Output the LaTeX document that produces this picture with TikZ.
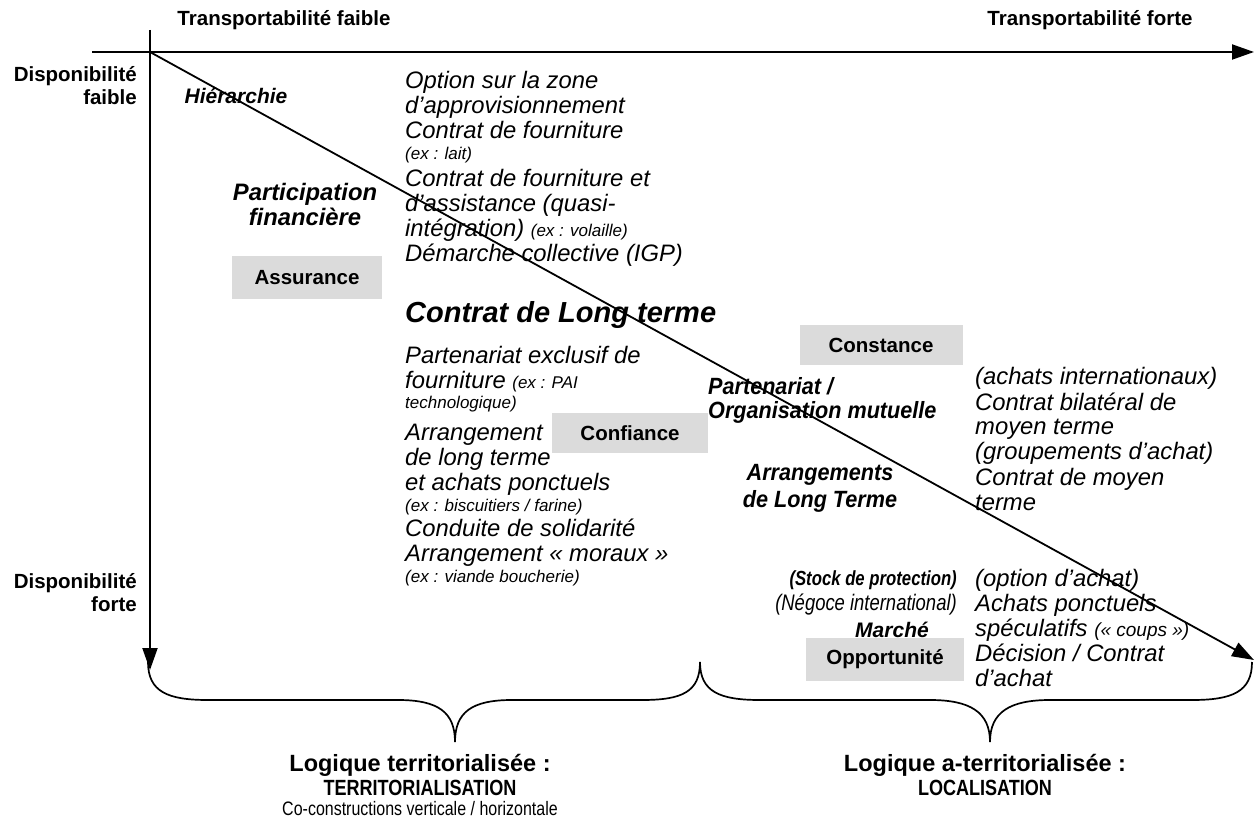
\documentclass[tikz,border=0pt]{standalone}
\usepackage{fontspec}
\setmainfont{Liberation Sans}
\newfontfamily\narrowfont[FakeStretch=0.82]{Liberation Sans}
\newfontfamily\semifont[FakeStretch=0.92]{Liberation Sans}
\usetikzlibrary{arrows.meta}
\newcommand\sm[1]{{\fontsize{17}{17}\selectfont #1}}
\newcommand\tline[4]{\node[txt] (#1) at (#2,#3) {#4};}
\tikzset{
  axis/.style={line width=2pt, -{Triangle[length=22pt,width=15pt]}},
  txt/.style={anchor=base west, inner sep=0pt, font=\fontsize{23.8}{24}\selectfont\itshape},
  lab/.style={inner sep=0pt, font=\fontsize{20.5}{21}\selectfont\bfseries},
  bi/.style={inner sep=0pt, font=\fontsize{23.8}{25}\selectfont\bfseries\itshape},
  sbi/.style={inner sep=0pt, font=\semifont\fontsize{23.5}{24}\selectfont\bfseries\itshape},
  graybox/.style={fill=gray!28, inner sep=0pt, font=\fontsize{20.5}{21}\selectfont\bfseries},
  brace/.style={line width=1.7pt},
  bottom/.style={inner sep=0pt, font=\fontsize{23.5}{24}\selectfont\bfseries},
  bottomcaps/.style={inner sep=0pt, font=\narrowfont\fontsize{22}{22}\selectfont\bfseries},
}
\begin{document}
\begin{tikzpicture}[x=1pt,y=-1pt]
\useasboundingbox (0,0) rectangle (1254,818);
% axes
\coordinate (o) at (150,52);
\coordinate (hl) at (92,52);
\coordinate (hr) at (1254,52);
\coordinate (vt) at (150,30);
\coordinate (vb) at (150,670);
\coordinate (dg) at (1254,660);
\draw[axis] (hl) -- (hr);
\draw[axis] (vt) -- (vb);
\draw[axis, line width=1.8pt] (o) -- (dg);
% top labels
\node[lab, anchor=base] (tf) at (284,26) {Transportabilité faible};
\node[lab, anchor=base] (tF) at (1090,26) {Transportabilité forte};
\node[lab, anchor=base east] (df) at (137,82) {Disponibilité};
\node[lab, anchor=base east] (df2) at (137,105) {faible};
\node[lab, anchor=base east] (dF) at (137,588) {Disponibilité};
\node[lab, anchor=base east] (dF2) at (137,611) {forte};
% left column labels
\node[bi, font=\fontsize{21}{21}\selectfont\bfseries\itshape, anchor=base] (hier) at (236,104) {Hiérarchie};
\node[bi, anchor=base] (part) at (305,201) {Participation};
\node[bi, anchor=base] (fin) at (305,226) {financière};
\node[graybox, minimum width=150pt, minimum height=43pt] (assur) at (307,278) {Assurance};
% column A
\tline{a1}{405}{89}{Option sur la zone}
\tline{a2}{405}{114}{d’approvisionnement}
\tline{a3}{405}{139}{Contrat de fourniture}
\tline{a4}{405}{160}{\sm{(ex : lait)}}
\tline{a5}{405}{187}{Contrat de fourniture et}
\tline{a6}{405}{212}{d’assistance (quasi-}
\tline{a7}{405}{237}{intégration) \sm{(ex : volaille)}}
\tline{a8}{405}{262}{Démarche collective (IGP)}
\node[bi, font=\fontsize{29}{29}\selectfont\bfseries\itshape, anchor=base west] (clt) at (405,323) {Contrat de Long terme};
\tline{b1}{405}{364}{Partenariat exclusif de}
\tline{b2}{405}{389}{fourniture \sm{(ex : PAI}}
\tline{b3}{405}{409}{\sm{technologique)}}
\tline{b4}{405}{440}{Arrangement}
\tline{b5}{405}{465}{de long terme}
\tline{b6}{405}{490}{et achats ponctuels}
\tline{b7}{405}{511}{\sm{(ex : biscuitiers / farine)}}
\tline{b8}{405}{536}{Conduite de solidarité}
\tline{b9}{405}{561}{Arrangement « moraux »}
\tline{b10}{405}{582}{\sm{(ex : viande boucherie)}}
\node[graybox, minimum width=156pt, minimum height=40pt] (conf) at (630,433) {Confiance};
% middle
\node[graybox, minimum width=163pt, minimum height=40pt] (const) at (881,345) {Constance};
\node[sbi, anchor=base west] (pt) at (708,395) {Partenariat /};
\node[sbi, anchor=base west] (om) at (708,419) {Organisation mutuelle};
\node[sbi, anchor=base] (arr) at (820,480) {Arrangements};
\node[sbi, anchor=base] (dlt) at (820,507) {de Long Terme};
\node[inner sep=0pt, font=\narrowfont\fontsize{20.4}{21}\selectfont\bfseries\itshape, anchor=base east] (stk) at (957,585) {(Stock de protection)};
\node[inner sep=0pt, font=\narrowfont\fontsize{22.5}{23}\selectfont\itshape, anchor=base east] (neg) at (957,610) {(Négoce international)};
\node[bi, font=\fontsize{21}{21}\selectfont\bfseries\itshape, anchor=base] (mar) at (892,637) {Marché};
\node[graybox, minimum width=158pt, minimum height=43pt] (opp) at (885,659) {Opportunité};
% right column
\tline{c1}{975}{385}{(achats internationaux)}
\tline{c2}{975}{410}{Contrat bilatéral de}
\tline{c3}{975}{435}{moyen terme}
\tline{c4}{975}{460}{(groupements d’achat)}
\tline{c5}{975}{485}{Contrat de moyen}
\tline{c6}{975}{510}{terme}
\tline{d1}{975}{586}{(option d’achat)}
\tline{d2}{975}{611}{Achats ponctuels}
\tline{d3}{975}{636}{spéculatifs {\fontsize{19}{19}\selectfont(« coups »)}}
\tline{d4}{975}{661}{Décision / Contrat}
\tline{d5}{975}{686}{d’achat}
% braces
\coordinate (l1) at (148,662);
\coordinate (lc) at (455,742);
\coordinate (m1) at (700,662);
\coordinate (rc) at (990,742);
\coordinate (r1) at (1252,662);
\draw[brace] (l1) .. controls ++(0,30) and ++(-40,0) .. ++(60,38) -- ++(190,0) .. controls ++(40,0) and ++(0,-30) .. (lc) .. controls ++(0,-30) and ++(-40,0) .. ++(57,-42) -- ++(130,0) .. controls ++(40,0) and ++(0,30) .. (m1);
\draw[brace] (m1) .. controls ++(0,30) and ++(-40,0) .. ++(60,38) -- ++(170,0) .. controls ++(40,0) and ++(0,-30) .. (rc) .. controls ++(0,-30) and ++(-40,0) .. ++(60,-42) -- ++(142,0) .. controls ++(40,0) and ++(0,30) .. (r1);
% bottom labels
\node[bottom, anchor=base] (lt1) at (420,771) {Logique territorialisée :};
\node[bottomcaps, anchor=base] (lt2) at (420,795) {TERRITORIALISATION};
\node[inner sep=0pt, font=\narrowfont\fontsize{19.5}{20}\selectfont, anchor=base] (lt3) at (420,815) {Co-constructions verticale / horizontale};
\node[bottom, anchor=base] (la1) at (985,771) {Logique a-territorialisée :};
\node[bottomcaps, anchor=base] (la2) at (985,795) {LOCALISATION};
\end{tikzpicture}
\end{document}
